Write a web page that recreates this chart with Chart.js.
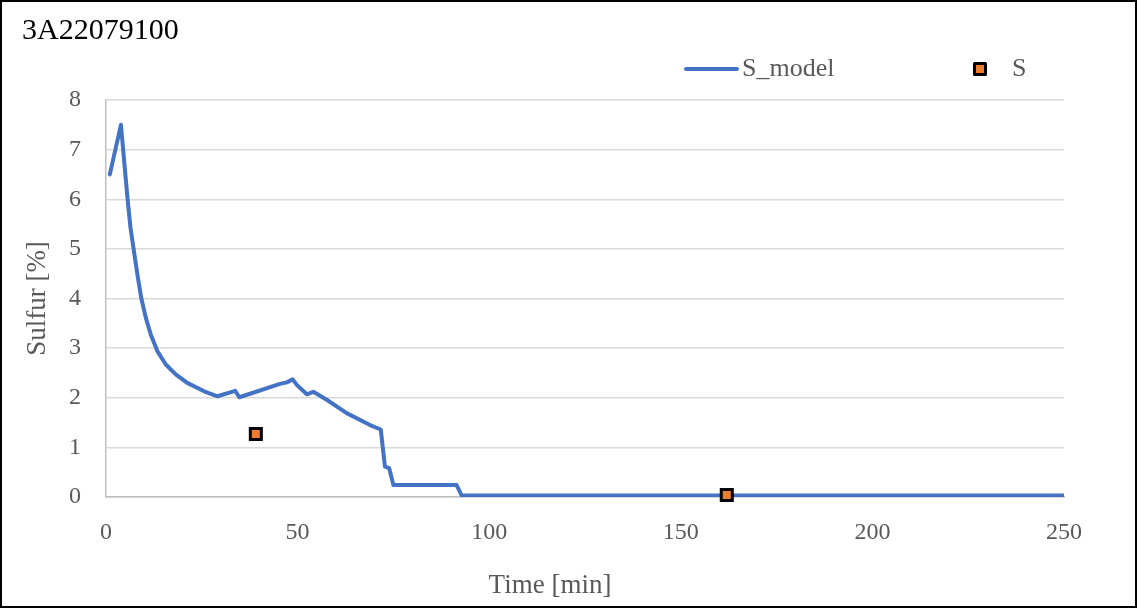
<!DOCTYPE html>
<html>
<head>
<meta charset="utf-8">
<script src="https://cdn.jsdelivr.net/npm/chart.js@4.4.1/dist/chart.umd.min.js"></script>
<style>
  html, body { margin: 0; padding: 0; background: #fff; }
  #frame { position: absolute; left: 0; top: 0; width: 1133px; height: 604px; border: 2px solid #000; }
  canvas { display: block; }
</style>
</head>
<body>
<div id="frame"><canvas id="c" width="1133" height="604"></canvas></div>
<script>
// model curve
const timeModel = [1, 3.9, 4.9, 5.6, 6.4, 7.3, 8.2, 9.2, 10.4, 11.7, 13.4, 15.6, 18.2, 21.2, 25.6, 29.1,
  33.7, 34.8, 45.4, 47.2, 48.7, 49.8, 52.4, 54.1, 57.6, 62.8, 68.9, 71.7, 72.8, 73.9, 75.0,
  91.5, 92.8, 250];
const sModel = [6.5, 7.5, 6.63, 6.03, 5.42, 4.95, 4.48, 4.01, 3.61, 3.27, 2.94, 2.67, 2.47, 2.30, 2.13, 2.03,
  2.14, 2.01, 2.28, 2.31, 2.37, 2.26, 2.07, 2.12, 1.96, 1.69, 1.45, 1.36, 0.61, 0.58, 0.24,
  0.24, 0.03, 0.03];

// measured points
const timeMeas = [39.1, 162];
const sMeas = [1.27, 0.04];

const xTicks = [0, 50, 100, 150, 200, 250];
const yTicks = [0, 1, 2, 3, 4, 5, 6, 7, 8];

const FONT = "'Liberation Serif', 'Times New Roman', serif";
const GREY = '#595959';

// legend + x title drawn by hand so they sit where Excel put them
const excelDecor = {
  id: 'excelDecor',
  afterDraw(chart) {
    const ctx = chart.ctx;
    const [line, pts] = chart.data.datasets;
    ctx.save();
    ctx.font = '26px ' + FONT;
    ctx.fillStyle = GREY;
    ctx.textBaseline = 'middle';

    ctx.strokeStyle = line.borderColor;
    ctx.lineWidth = line.borderWidth;
    ctx.lineCap = 'round';
    ctx.beginPath();
    ctx.moveTo(684, 67);
    ctx.lineTo(735, 67);
    ctx.stroke();
    ctx.fillText(line.label, 740, 67);

    ctx.fillStyle = pts.backgroundColor;
    ctx.strokeStyle = pts.borderColor;
    ctx.lineWidth = pts.borderWidth;
    ctx.lineJoin = 'round';
    ctx.fillRect(972.5, 61.5, 11, 11);
    ctx.strokeRect(972.5, 61.5, 11, 11);
    ctx.fillStyle = GREY;
    ctx.fillText(pts.label, 1010, 67);

    ctx.font = '27px ' + FONT;
    ctx.textAlign = 'center';
    ctx.textBaseline = 'alphabetic';
    ctx.fillText('Time [min]', 548, 591);
    ctx.restore();
  }
};

new Chart(document.getElementById('c'), {
  type: 'scatter',
  data: {
    datasets: [
      {
        label: 'S_model',
        data: timeModel.map((t, i) => ({ x: t, y: sModel[i] })),
        showLine: true,
        borderColor: '#4472C4',
        borderWidth: 4,
        borderJoinStyle: 'round',
        borderCapStyle: 'round',
        pointRadius: 0,
        tension: 0,
        order: 1
      },
      {
        label: 'S',
        data: timeMeas.map((t, i) => ({ x: t, y: sMeas[i] })),
        showLine: false,
        pointStyle: 'rect',
        pointRadius: 7.8,
        backgroundColor: '#ED7D31',
        borderColor: '#000',
        borderWidth: 3,
        clip: false,
        order: 0
      }
    ]
  },
  options: {
    responsive: false,
    animation: false,
    events: [],
    layout: { padding: { left: 20, right: 71, top: 0, bottom: 0 } },
    plugins: {
      legend: { display: false },
      tooltip: { enabled: false },
      title: {
        display: true,
        text: '3A22079100',
        align: 'start',
        color: '#000',
        font: { family: FONT, size: 30, weight: 'normal' },
        padding: { top: 11, bottom: 51 }
      }
    },
    scales: {
      x: {
        type: 'linear',
        min: xTicks[0],
        max: xTicks[xTicks.length - 1],
        afterBuildTicks: s => { s.ticks = xTicks.map(v => ({ value: v })); },
        ticks: { color: GREY, font: { family: FONT, size: 24 }, padding: 21, maxRotation: 0 },
        grid: { display: false, drawTicks: false },
        border: { display: true, color: '#bfbfbf', width: 1.5 },
        afterFit: s => { s.height = 109; }
      },
      y: {
        min: yTicks[0],
        max: yTicks[yTicks.length - 1],
        afterBuildTicks: s => { s.ticks = yTicks.map(v => ({ value: v })); },
        ticks: { color: GREY, font: { family: FONT, size: 24 }, padding: 25 },
        grid: { color: '#d9d9d9', lineWidth: 1.5, drawTicks: false },
        border: { display: true, color: '#bfbfbf', width: 1.5 },
        title: {
          display: true,
          text: 'Sulfur [%]',
          color: GREY,
          font: { family: FONT, size: 27, lineHeight: 1 },
          padding: { top: 2, bottom: 0 }
        },
        afterFit: s => { s.width = 84; }
      }
    }
  },
  plugins: [excelDecor]
});
</script>
</body>
</html>
